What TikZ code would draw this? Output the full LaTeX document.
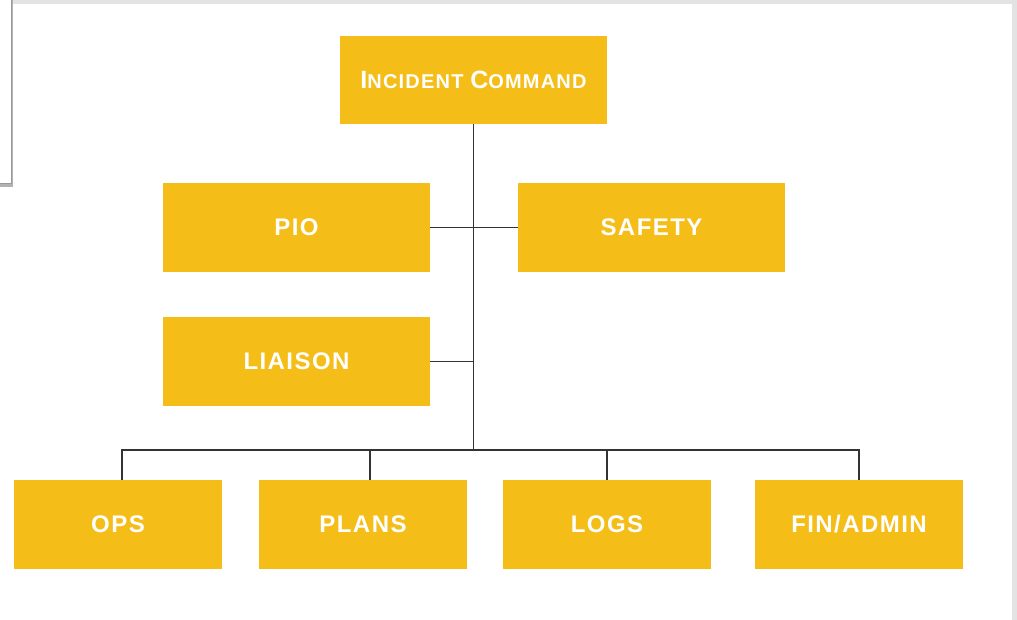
\documentclass[tikz,border=0pt]{standalone}
\usepackage{fontspec}
\setmainfont{Liberation Sans}
\newfontfamily\boxfont[LetterSpace=6]{Liberation Sans}
\begin{document}
\begin{tikzpicture}[x=1pt,y=-1pt,
  box/.style={fill=boxy, draw=none, text=white, font=\boxfont\bfseries\fontsize{24}{28}\selectfont, inner sep=0pt},
  link/.style={draw=linegray, line width=1.5pt}]
\definecolor{boxy}{HTML}{F5BD17}
\definecolor{linegray}{HTML}{333333}
\definecolor{frame}{HTML}{E3E3E3}
\useasboundingbox (0,0) rectangle (1017,620);
\fill[white] (0,0) rectangle (1017,620);
% frame stripes
\fill[frame] (0,0) rectangle (1017,4);
\fill[frame] (1012,0) rectangle (1017,620);
% left panel
\fill[gray!60] (-5,-5) rectangle (13,187);
\filldraw[fill=white, draw=gray!80, line width=1pt] (-5,-5) rectangle (11,184);
% boxes
\node[box, minimum width=267pt, minimum height=88pt] (ic) at (473.5,80) {\fontsize{25}{28}\selectfont I\fontsize{20}{28}\selectfont NCIDENT \fontsize{25}{28}\selectfont C\fontsize{20}{28}\selectfont OMMAND};
\node[box, minimum width=267pt, minimum height=89pt] (pio) at (296.5,227.5) {PIO};
\node[box, minimum width=267pt, minimum height=89pt] (safety) at (651.5,227.5) {SAFETY};
\node[box, minimum width=267pt, minimum height=89pt] (liaison) at (296.5,361.5) {LIAISON};
\node[box, minimum width=208pt, minimum height=89pt] (ops) at (118,524.5) {OPS};
\node[box, minimum width=208pt, minimum height=89pt] (plans) at (363,524.5) {PLANS};
\node[box, minimum width=208pt, minimum height=89pt] (logs) at (607,524.5) {LOGS};
\node[box, minimum width=208pt, minimum height=89pt] (fin) at (859,524.5) {FIN/ADMIN};
% connectors
\coordinate (bus) at (473.5,450);
\draw[link] (ic.south) -- (bus);
\draw[link] (pio.east) -- (safety.west);
\draw[link] (liaison.east) -- (liaison.east -| ic.south);
\draw[link] (bus) -| ([xshift=4pt]ops.north);
\draw[link] (bus) -| ([xshift=7pt]plans.north);
\draw[link] (bus) -| (logs.north);
\draw[link] (bus) -| (fin.north);
\end{tikzpicture}
\end{document}
